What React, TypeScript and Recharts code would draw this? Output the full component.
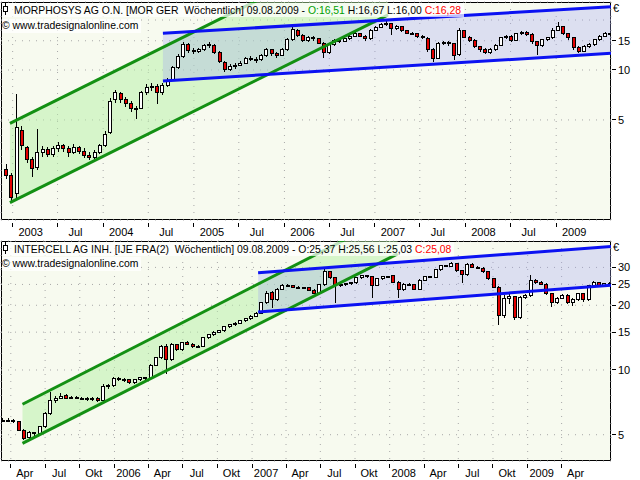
import React from "react";
import { Area, Bar, CartesianGrid, ComposedChart, Line, XAxis, YAxis } from "recharts";

const DAY = 24 * 60 * 60 * 1000;
const utc = (y: number, m: number, d: number) => Date.UTC(y, m - 1, d);

// MorphoSys, one candle every third week: open, high, low, close
const morStart = utc(2002, 12, 6);
const morStepDays = 21;
const morOHLC = [
  [2.5, 2.7, 2.2, 2.3], [2.3, 2.4, 1.6, 1.7], [1.8, 7.2, 1.7, 4.5], [4.3, 4.6, 3.3, 3.5],
  [3.4, 3.5, 2.75, 2.9], [2.9, 3.0, 2.27, 2.55], [2.6, 4.4, 2.5, 3.2], [3.2, 3.5, 3.0, 3.3],
  [3.3, 3.45, 3.0, 3.1], [3.1, 3.5, 3.0, 3.35], [3.35, 3.7, 3.2, 3.5], [3.5, 3.6, 3.2, 3.35],
  [3.35, 3.5, 3.0, 3.2], [3.2, 3.6, 3.1, 3.4], [3.4, 3.5, 3.1, 3.25], [3.25, 3.4, 2.95, 3.05],
  [3.05, 3.2, 2.85, 2.95], [2.95, 3.3, 2.9, 3.2], [3.2, 3.6, 3.1, 3.5], [3.5, 4.3, 3.45, 4.1],
  [4.2, 6.8, 4.1, 6.5], [6.6, 7.6, 6.3, 7.3], [7.2, 7.4, 6.3, 6.6], [6.6, 6.9, 6.0, 6.3],
  [6.3, 6.5, 5.6, 5.9], [5.9, 6.1, 5.1, 5.8], [5.9, 7.5, 5.8, 7.3], [7.3, 8.2, 7.1, 7.8],
  [7.8, 8.3, 7.5, 8.0], [8.0, 8.2, 6.2, 7.3], [7.3, 8.3, 7.1, 8.1], [8.1, 9.0, 7.9, 8.7],
  [8.8, 10.6, 8.6, 10.4], [10.4, 12.5, 10.2, 12.0], [12.0, 14.8, 11.8, 14.3], [14.2, 14.5, 12.6, 13.1],
  [13.1, 13.6, 12.5, 12.9], [12.9, 13.6, 12.6, 13.3], [13.3, 14.4, 13.0, 14.0], [14.0, 14.8, 13.6, 14.2],
  [14.1, 14.3, 12.5, 12.8], [12.8, 13.0, 11.0, 11.2], [11.1, 11.3, 9.7, 10.0], [10.0, 10.8, 9.9, 10.5],
  [10.5, 11.0, 10.2, 10.7], [10.7, 11.4, 10.5, 11.0], [11.0, 12.0, 10.8, 11.8], [11.8, 12.2, 11.3, 11.6],
  [11.6, 12.0, 11.0, 11.5], [11.5, 12.4, 11.3, 12.2], [12.2, 13.6, 12.0, 13.3], [13.2, 13.4, 12.2, 12.5],
  [12.5, 12.8, 11.8, 12.3], [12.3, 13.5, 12.1, 13.3], [13.3, 15.5, 13.1, 15.2], [15.2, 18.1, 15.0, 17.5],
  [17.4, 17.6, 15.8, 16.2], [16.2, 16.5, 14.8, 15.0], [15.0, 16.0, 14.7, 15.7], [15.7, 16.0, 15.0, 15.4],
  [15.4, 15.6, 14.3, 14.5], [14.4, 14.7, 11.8, 12.7], [12.7, 14.4, 12.4, 14.2], [14.2, 15.3, 14.0, 15.0],
  [15.0, 15.4, 14.6, 14.9], [14.9, 15.7, 14.7, 15.4], [15.4, 16.3, 15.2, 16.0], [16.0, 16.9, 15.8, 16.5],
  [16.5, 16.8, 15.7, 16.0], [16.0, 16.2, 15.0, 15.4], [15.4, 17.6, 15.2, 17.4], [17.4, 18.5, 17.1, 18.1],
  [18.1, 19.3, 17.9, 18.9], [18.9, 20.0, 18.5, 19.1], [19.1, 19.3, 16.3, 17.9], [17.9, 18.6, 17.5, 18.2],
  [18.2, 18.4, 16.9, 17.2], [17.2, 17.5, 16.4, 16.7], [16.7, 17.0, 16.2, 16.5], [16.5, 16.8, 15.6, 16.0],
  [16.0, 16.2, 15.3, 15.6], [15.5, 15.8, 12.8, 13.2], [13.2, 13.5, 11.2, 11.8], [11.8, 14.8, 11.6, 14.5],
  [14.5, 15.0, 14.2, 14.7], [14.7, 14.9, 14.0, 14.4], [14.4, 14.5, 11.5, 12.3], [12.4, 17.8, 12.2, 17.4],
  [17.3, 17.5, 15.5, 15.8], [15.8, 16.0, 14.7, 15.1], [15.1, 15.3, 13.5, 13.8], [13.8, 14.0, 12.9, 13.2],
  [13.2, 13.5, 12.4, 12.7], [12.7, 13.5, 12.5, 13.2], [13.2, 14.4, 13.0, 14.1], [14.1, 15.8, 13.9, 15.6],
  [15.6, 16.3, 15.3, 16.0], [16.0, 16.2, 14.8, 15.1], [15.1, 16.8, 15.0, 16.5], [16.5, 17.2, 16.2, 16.9],
  [16.9, 17.1, 16.0, 16.4], [16.4, 16.6, 14.4, 14.8], [14.8, 15.0, 12.3, 14.0], [14.0, 15.4, 13.8, 15.2],
  [15.2, 15.9, 15.0, 15.6], [15.6, 17.8, 15.4, 17.4], [17.4, 19.5, 17.2, 18.3], [18.3, 18.5, 16.2, 16.5],
  [16.5, 16.7, 15.2, 15.6], [15.6, 15.8, 13.2, 13.6], [13.6, 13.9, 12.7, 13.0], [13.0, 14.2, 12.9, 13.9],
  [13.9, 14.5, 13.6, 14.2], [14.2, 15.4, 14.0, 15.2], [15.2, 16.3, 15.0, 16.0], [16.0, 16.9, 15.7, 16.6],
  [16.51, 16.67, 16.0, 16.28],
];
const morTicks = [
  utc(2003, 1, 1), utc(2003, 7, 1), utc(2004, 1, 1), utc(2004, 7, 1), utc(2005, 1, 1),
  utc(2005, 7, 1), utc(2006, 1, 1), utc(2006, 7, 1), utc(2007, 1, 1), utc(2007, 7, 1),
  utc(2008, 1, 1), utc(2008, 7, 1), utc(2009, 1, 1),
];
const morTickLabels = ["2003", "Jul", "2004", "Jul", "2005", "Jul", "2006", "Jul", "2007", "Jul", "2008", "Jul", "2009"];
const morPriceTicks = [5, 10, 15, 20];
const morPriceLabels = ["5", "10", "15", ""];
const morGreen = [
  { t: utc(2002, 12, 21), lo: 1.59, hi: 4.77 },
  { t: utc(2007, 2, 23), lo: 21.5, hi: 64.7 },
];
const morBlue = [
  { t: utc(2004, 8, 29), lo: 8.59, hi: 16.64 },
  { t: utc(2009, 8, 10), lo: 12.61, hi: 24.06 },
];

// Intercell, one candle every second week: open, high, low, close
const ijeStart = utc(2005, 3, 11);
const ijeStepDays = 14;
const ijeOHLC = [
  [5.8, 5.95, 5.7, 5.85], [5.85, 5.95, 5.75, 5.8], [5.8, 5.9, 5.65, 5.75], [5.75, 5.8, 5.2, 5.25],
  [5.25, 5.3, 4.7, 4.8], [4.85, 5.2, 4.8, 5.1], [5.1, 5.15, 4.95, 5.05], [5.05, 5.5, 5.0, 5.45],
  [5.45, 6.4, 5.4, 6.3], [6.3, 7.9, 6.2, 7.2], [7.2, 7.6, 7.0, 7.4], [7.4, 7.8, 7.3, 7.55],
  [7.6, 7.7, 7.3, 7.4], [7.4, 7.6, 7.3, 7.45], [7.45, 7.55, 7.3, 7.4], [7.4, 7.5, 7.25, 7.35],
  [7.35, 7.5, 7.2, 7.3], [7.3, 7.5, 7.2, 7.4], [7.4, 7.45, 7.1, 7.2], [7.2, 8.6, 7.1, 8.4],
  [8.4, 8.6, 8.2, 8.45], [8.45, 9.3, 8.3, 9.1], [9.1, 9.3, 8.9, 9.05], [9.05, 9.2, 8.8, 9.0],
  [9.0, 9.1, 8.6, 8.7], [8.7, 9.1, 8.6, 9.0], [9.0, 9.3, 8.9, 9.2], [9.2, 9.3, 9.0, 9.15],
  [9.15, 10.7, 9.1, 10.5], [10.5, 11.5, 10.4, 11.4], [11.4, 13.1, 11.3, 12.9], [12.9, 13.2, 9.6, 11.2],
  [11.2, 13.3, 11.0, 13.1], [13.1, 13.2, 12.2, 12.4], [12.4, 13.5, 12.3, 13.4], [13.4, 13.6, 13.0, 13.2],
  [13.2, 13.3, 12.6, 12.8], [12.8, 13.0, 12.6, 12.85], [12.85, 14.3, 12.8, 14.2], [14.2, 14.7, 14.0, 14.55],
  [14.55, 15.2, 14.4, 15.0], [15.0, 15.4, 14.8, 15.2], [15.2, 16.0, 15.0, 15.85], [15.85, 16.4, 15.6, 16.2],
  [16.2, 16.7, 16.0, 16.5], [16.5, 17.1, 16.3, 16.9], [16.9, 17.5, 16.7, 17.3], [17.3, 18.0, 17.1, 17.8],
  [17.8, 18.6, 17.6, 18.4], [18.4, 20.8, 18.2, 20.5], [20.5, 23.3, 20.2, 22.8], [23.0, 23.4, 19.4, 21.2],
  [21.2, 24.1, 21.0, 23.8], [23.8, 25.2, 23.6, 24.85], [24.85, 25.1, 24.2, 24.6], [24.6, 24.9, 24.0, 24.3],
  [24.3, 24.6, 23.8, 24.05], [24.05, 24.4, 23.7, 24.1], [24.1, 24.3, 23.3, 23.5], [23.5, 23.7, 22.5, 22.8],
  [22.8, 25.1, 22.6, 24.9], [24.9, 29.5, 24.7, 28.6], [28.6, 28.9, 26.5, 26.8], [26.8, 27.0, 20.5, 24.85],
  [24.85, 25.5, 24.4, 25.1], [25.1, 25.5, 24.7, 25.2], [25.2, 25.7, 24.9, 25.4], [25.4, 27.1, 25.2, 26.8],
  [26.8, 27.7, 26.5, 27.4], [27.4, 27.6, 26.8, 27.1], [27.1, 27.3, 21.6, 24.85], [24.85, 26.8, 24.6, 26.5],
  [26.5, 27.4, 26.3, 27.1], [27.1, 27.5, 26.7, 27.0], [27.6, 27.8, 25.4, 25.6], [25.6, 25.8, 21.6, 23.6],
  [23.6, 25.4, 23.4, 25.1], [25.1, 25.5, 24.8, 25.0], [25.0, 25.2, 23.5, 23.8], [23.8, 26.5, 23.6, 26.2],
  [26.2, 27.4, 26.0, 27.1], [27.1, 27.5, 26.8, 27.0], [27.0, 29.5, 26.9, 29.2], [29.2, 30.8, 29.0, 30.5],
  [30.5, 30.9, 30.0, 30.4], [30.4, 31.9, 30.2, 31.4], [31.4, 31.6, 28.6, 28.9], [28.9, 29.1, 25.4, 27.7],
  [27.7, 31.6, 27.5, 31.1], [31.1, 31.3, 29.8, 30.1], [30.1, 30.4, 29.4, 29.8], [29.8, 30.0, 28.3, 28.6],
  [28.6, 28.8, 26.2, 26.5], [26.5, 26.7, 24.0, 24.3], [24.3, 24.6, 16.2, 18.0], [18.0, 22.3, 17.5, 21.6],
  [21.6, 22.5, 20.2, 21.9], [21.9, 22.2, 17.1, 17.5], [17.5, 22.2, 17.3, 21.85], [21.85, 22.6, 21.3, 22.1],
  [22.1, 27.6, 21.9, 26.2], [26.2, 26.6, 25.0, 25.4], [25.4, 25.8, 24.8, 25.1], [25.1, 25.3, 22.3, 22.6],
  [22.6, 22.8, 19.6, 20.5], [20.5, 21.9, 20.2, 21.6], [21.6, 22.6, 21.3, 22.3], [22.3, 22.5, 20.2, 20.7],
  [20.7, 21.6, 19.8, 21.2], [21.2, 22.9, 21.0, 22.6], [22.6, 22.8, 20.8, 21.2], [21.2, 24.9, 21.0, 24.6],
  [24.6, 25.9, 24.4, 25.4], [25.4, 25.6, 24.5, 24.85], [24.85, 25.5, 24.6, 25.2], [25.37, 25.56, 25.03, 25.08],
];
const ijeTicks = [
  utc(2005, 4, 1), utc(2005, 7, 1), utc(2005, 10, 1), utc(2006, 1, 1), utc(2006, 4, 1),
  utc(2006, 7, 1), utc(2006, 10, 1), utc(2007, 1, 1), utc(2007, 4, 1), utc(2007, 7, 1),
  utc(2007, 10, 1), utc(2008, 1, 1), utc(2008, 4, 1), utc(2008, 7, 1), utc(2008, 10, 1),
  utc(2009, 1, 1), utc(2009, 4, 1),
];
const ijeTickLabels = ["Apr", "Jul", "Okt", "2006", "Apr", "Jul", "Okt", "2007", "Apr", "Jul", "Okt", "2008", "Apr", "Jul", "Okt", "2009", "Apr"];
const ijePriceTicks = [5, 10, 15, 20, 25, 30];
const ijePriceLabels = ["5", "10", "15", "20", "25", "30"];
const ijeGreen = [
  { t: utc(2005, 5, 2), lo: 4.56, hi: 6.93 },
  { t: utc(2008, 1, 22), lo: 34.7, hi: 53.8 },
];
const ijeBlue = [
  { t: utc(2007, 1, 17), lo: 18.61, hi: 28.35 },
  { t: utc(2009, 8, 10), lo: 24.77, hi: 37.54 },
];

const BG = "#f7faef";
const GREEN = "#139013";
const BLUE = "#0b12f2";
const RED = "#e40000";

const buildCandles = (start: number, stepDays: number, rows: number[][]) =>
  rows.map(([o, h, l, c], i) => ({
    t: start + i * stepDays * DAY,
    wick: [l, h],
    body: [Math.min(o, c), Math.max(o, c)],
    up: c >= o,
  }));

const WickShape = (p: any) => (
  <line
    x1={p.x + p.width / 2}
    x2={p.x + p.width / 2}
    y1={p.y}
    y2={p.y + p.height}
    stroke="#000"
    strokeWidth={1}
    shapeRendering="crispEdges"
  />
);

const BodyShape = (p: any) => (
  <rect
    x={p.x}
    y={p.y}
    width={p.width}
    height={Math.max(p.height, 1)}
    fill={p.payload.up ? "#ffffff" : RED}
    stroke="#000"
    strokeWidth={1}
    shapeRendering="crispEdges"
  />
);

function CandleIcon() {
  return (
    <svg width={8} height={12} style={{ verticalAlign: "-1px", marginRight: 4 }}>
      <line x1={3.5} x2={3.5} y1={0} y2={12} stroke="#000" />
      <rect x={1.5} y={3.5} width={4} height={5} fill="#fff" stroke="#000" />
    </svg>
  );
}

interface PanelProps {
  top: number;
  plotTop: number;
  plotHeight: number;
  xAxisHeight: number;
  start: number;
  stepDays: number;
  ohlc: number[][];
  xDomain: [number, number];
  yDomain: [number, number];
  ticks: number[];
  tickLabels: string[];
  labelDx: number;
  priceTicks: number[];
  priceLabels: string[];
  green: { t: number; lo: number; hi: number }[];
  blue: { t: number; lo: number; hi: number }[];
  title: React.ReactNode;
}

function Panel(props: PanelProps) {
  const data = buildCandles(props.start, props.stepDays, props.ohlc);
  const height = 240;
  const axisY = props.plotTop + props.plotHeight;

  const timeTick = (p: any) => (
    <g>
      <line x1={p.x} x2={p.x} y1={axisY + 3} y2={axisY + 7} stroke="#000" shapeRendering="crispEdges" />
      <text x={p.x + props.labelDx} y={axisY + 16} textAnchor="middle" fontSize={11} fill="#000">
        {props.tickLabels[p.index]}
      </text>
    </g>
  );

  const priceTick = (p: any) => {
    const label = props.priceLabels[props.priceTicks.indexOf(p.payload.value)];
    if (!label) return <g />;
    return (
      <g>
        <line x1={p.x + 1} x2={p.x + 5} y1={p.y} y2={p.y} stroke="#000" shapeRendering="crispEdges" />
        <text x={p.x + 7} y={p.y + 4} fontSize={11} fill="#000">
          {label}
        </text>
      </g>
    );
  };

  return (
    <div style={{ position: "absolute", left: 0, top: props.top, width: 640, height }}>
      <div
        style={{
          position: "absolute",
          left: 1,
          top: props.plotTop,
          width: 610,
          height: props.plotHeight,
          background: BG,
          border: "1px solid #000",
          boxSizing: "border-box",
        }}
      />
      <div style={{ position: "absolute", left: 0, top: 0 }}>
        <ComposedChart
          width={640}
          height={height}
          data={data}
          margin={{ top: props.plotTop, right: 0, bottom: height - axisY - props.xAxisHeight, left: 1 }}
        >
          <CartesianGrid xAxisId="t" stroke="#a8a8a8" strokeDasharray="1 6" />
          <XAxis
            xAxisId="t"
            dataKey="t"
            type="number"
            domain={props.xDomain}
            allowDataOverflow
            ticks={props.ticks}
            interval={0}
            height={props.xAxisHeight}
            axisLine={false}
            tickLine={false}
            tick={timeTick}
          />
          <XAxis xAxisId="b" dataKey="t" type="number" domain={props.xDomain} allowDataOverflow hide />
          <YAxis
            orientation="right"
            scale="log"
            domain={props.yDomain}
            allowDataOverflow
            ticks={props.priceTicks}
            interval={0}
            width={29}
            axisLine={false}
            tickLine={false}
            tickSize={0}
            tickMargin={0}
            tick={priceTick}
          />
          <Area
            xAxisId="t"
            data={props.green}
            dataKey={(p: any) => [p.lo, p.hi]}
            type="linear"
            stroke="none"
            fill="#b6f0a6"
            fillOpacity={0.5}
            isAnimationActive={false}
          />
          <Area
            xAxisId="t"
            data={props.blue}
            dataKey={(p: any) => [p.lo, p.hi]}
            type="linear"
            stroke="none"
            fill="#a0a3f2"
            fillOpacity={0.3}
            isAnimationActive={false}
          />
          <Bar xAxisId="t" dataKey="wick" barSize={1} shape={WickShape} isAnimationActive={false} />
          <Bar xAxisId="b" dataKey="body" barSize={3} shape={BodyShape} isAnimationActive={false} />
          <Line xAxisId="t" data={props.green} dataKey="hi" type="linear" stroke={GREEN} strokeWidth={3} dot={false} isAnimationActive={false} />
          <Line xAxisId="t" data={props.green} dataKey="lo" type="linear" stroke={GREEN} strokeWidth={3} dot={false} isAnimationActive={false} />
          <Line xAxisId="t" data={props.blue} dataKey="hi" type="linear" stroke={BLUE} strokeWidth={3} dot={false} isAnimationActive={false} />
          <Line xAxisId="t" data={props.blue} dataKey="lo" type="linear" stroke={BLUE} strokeWidth={3} dot={false} isAnimationActive={false} />
        </ComposedChart>
      </div>
      {props.title}
      <div style={{ position: "absolute", left: 613, top: props.plotTop, fontSize: 11, lineHeight: "13px" }}>€</div>
    </div>
  );
}

const band: React.CSSProperties = {
  position: "absolute",
  left: 2,
  height: 14,
  lineHeight: "14px",
  fontSize: 10.4,
  whiteSpace: "pre",
  background: "rgba(255,255,255,0.72)",
  paddingRight: 3,
  color: "#000",
};

export default function App() {
  return (
    <div
      style={{
        position: "absolute",
        left: 0,
        top: 0,
        width: 640,
        height: 480,
        overflow: "hidden",
        background: "#ffffff",
        fontFamily: "'Liberation Sans', Arial, sans-serif",
      }}
    >
      <Panel
        top={0}
        plotTop={2}
        plotHeight={218}
        xAxisHeight={20}
        start={morStart}
        stepDays={morStepDays}
        ohlc={morOHLC}
        xDomain={[utc(2002, 11, 15), utc(2009, 8, 10)]}
        yDomain={[1.248, 25.68]}
        ticks={morTicks}
        tickLabels={morTickLabels}
        labelDx={18}
        priceTicks={morPriceTicks}
        priceLabels={morPriceLabels}
        green={morGreen}
        blue={morBlue}
        title={
          <>
            <div style={{ ...band, top: 3 }}>
              <CandleIcon />
              {"MORPHOSYS AG O.N. [MOR GER  Wöchentlich] 09.08.2009 - "}
              <span style={{ color: "#00a000" }}>O:16,51</span>
              {" H:16,67 L:16,00 "}
              <span style={{ color: "#ff0000" }}>C:16,28</span>
            </div>
            <div style={{ ...band, top: 19 }}>© www.tradesignalonline.com</div>
          </>
        }
      />
      <Panel
        top={240}
        plotTop={1}
        plotHeight={220}
        xAxisHeight={19}
        start={ijeStart}
        stepDays={ijeStepDays}
        ohlc={ijeOHLC}
        xDomain={[utc(2005, 3, 6), utc(2009, 8, 10)]}
        yDomain={[3.773, 39.81]}
        ticks={ijeTicks}
        tickLabels={ijeTickLabels}
        labelDx={14}
        priceTicks={ijePriceTicks}
        priceLabels={ijePriceLabels}
        green={ijeGreen}
        blue={ijeBlue}
        title={
          <>
            <div style={{ ...band, top: 2 }}>
              <CandleIcon />
              {"INTERCELL AG INH. [IJE FRA(2)  Wöchentlich] 09.08.2009 - O:25,37 H:25,56 L:25,03 "}
              <span style={{ color: "#ff0000" }}>C:25,08</span>
            </div>
            <div style={{ ...band, top: 17 }}>© www.tradesignalonline.com</div>
          </>
        }
      />
    </div>
  );
}
